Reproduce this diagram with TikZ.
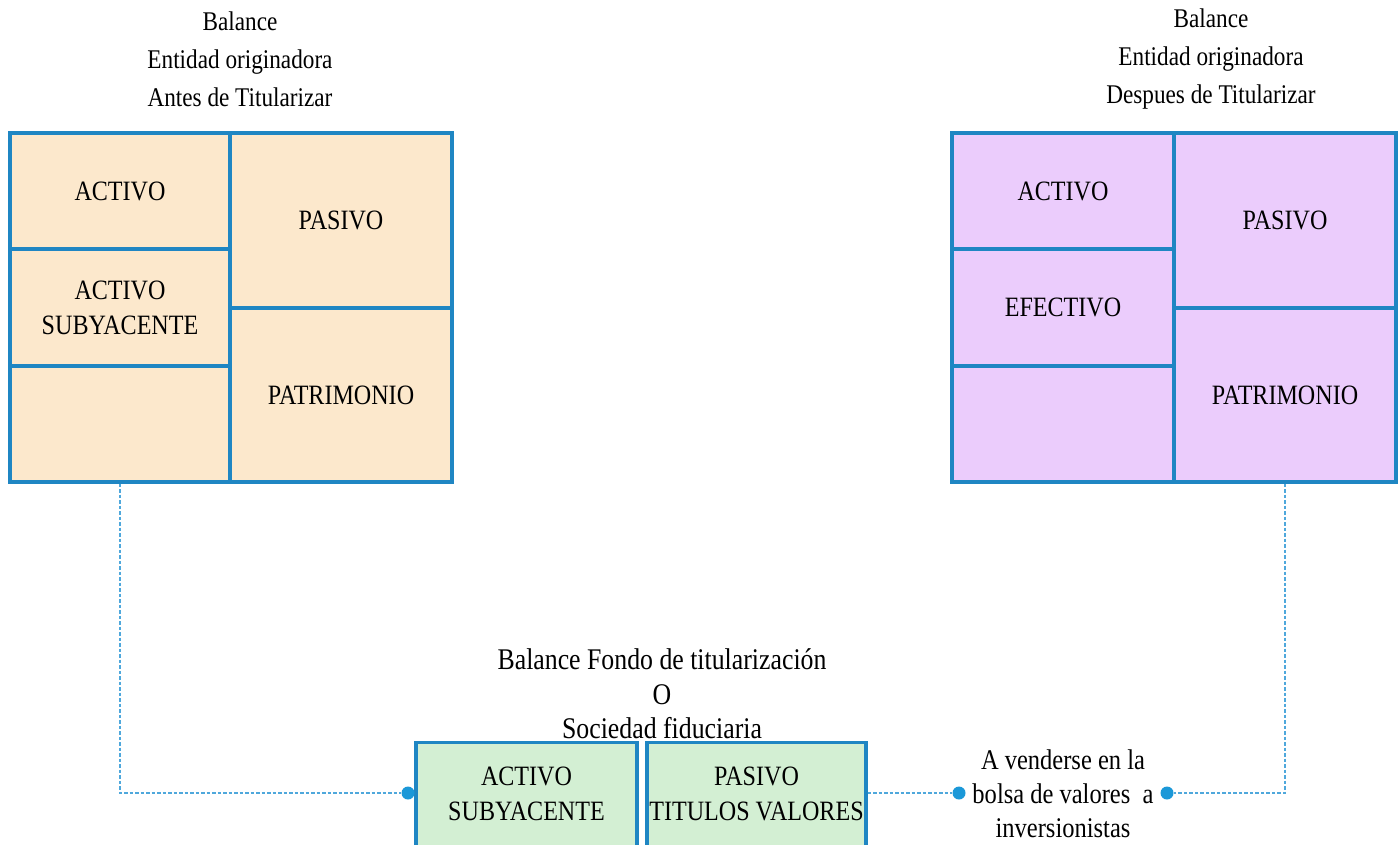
\documentclass[tikz,border=0pt]{standalone}
\usepackage{fontspec}
\setmainfont{Liberation Serif}[FakeStretch=0.86]
\usetikzlibrary{calc}
\definecolor{bord}{HTML}{1F86C3}
\definecolor{orf}{HTML}{FCE8CC}
\definecolor{puf}{HTML}{EBCCFC}
\definecolor{grf}{HTML}{D3EFD3}
\definecolor{dotc}{HTML}{1B98D8}
\definecolor{lnc}{HTML}{4FA8DC}
\tikzset{
  cell/.style={draw=bord, line width=3.2pt, rectangle, inner sep=0pt, align=center, font=\fontsize{28}{35}\selectfont},
  ocell/.style={cell, fill=orf},
  pcell/.style={cell, fill=puf},
  gcell/.style={cell, fill=grf},
  ttl/.style={align=center, inner sep=0pt, font=\fontsize{27}{38}\selectfont},
  lbl/.style={align=center, inner sep=0pt, font=\fontsize{30}{34.5}\selectfont},
  dotn/.style={circle, fill=dotc, inner sep=0pt, minimum size=13pt},
  conn/.style={draw=lnc, line width=1.5pt, dash pattern=on 3.5pt off 2pt}
}
\begin{document}
\begin{tikzpicture}[x=1pt,y=-1pt]
\useasboundingbox (0,0) rectangle (1400,844);
\clip (0,0) rectangle (1400,844);
% left balance
\node[ttl] (LT) at (240,59) {Balance\\Entidad originadora\\Antes de Titularizar};
\node[ocell, minimum width=220pt, minimum height=116pt] (LA) at (120,191) {ACTIVO};
\node[ocell, minimum width=220pt, minimum height=117pt] (LS) at (120,307.5) {ACTIVO\\SUBYACENTE};
\node[ocell, minimum width=220pt, minimum height=116pt] (LE) at (120,424) {};
\node[ocell, minimum width=222pt, minimum height=175pt] (LP) at (341,220.5) {PASIVO};
\node[ocell, minimum width=222pt, minimum height=174pt] (LPa) at (341,395) {PATRIMONIO};
% right balance
\node[ttl] (RT) at (1211,59) {Balance\\Entidad originadora\\Despues de Titularizar};
\node[pcell, minimum width=222pt, minimum height=116pt] (RA) at (1063,191) {ACTIVO};
\node[pcell, minimum width=222pt, minimum height=117pt] (RE) at (1063,307.5) {EFECTIVO};
\node[pcell, minimum width=222pt, minimum height=116pt] (RX) at (1063,424) {};
\node[pcell, minimum width=222pt, minimum height=175pt] (RP) at (1285,220.5) {PASIVO};
\node[pcell, minimum width=222pt, minimum height=174pt] (RPa) at (1285,395) {PATRIMONIO};
% fondo
\node[lbl] (FT) at (662,694) {Balance Fondo de titularización\\O\\Sociedad fiduciaria};
\node[gcell, minimum width=221pt, minimum height=140pt, anchor=north] (B1) at (526.5,741) {};
\node[gcell, minimum width=219pt, minimum height=140pt, anchor=north] (B2) at (756.5,741) {};
\node[cell, draw=none] (B1t) at (526.5,794) {ACTIVO\\SUBYACENTE};
\node[cell, draw=none] (B2t) at (756.5,794) {PASIVO\\TITULOS VALORES};
% sale label
\node[lbl, font=\fontsize{28.5}{34}\selectfont] (V) at (1063,794) {A venderse en la\\bolsa de valores \ a\\inversionistas};
% dots
\node[dotn] (d1) at (408,793) {};
\node[dotn] (d2) at (959,793) {};
\node[dotn] (d3) at (1167,793) {};
% connectors
\draw[conn] (LE.south) |- (d1.west);
\draw[conn] (RPa.south) |- (d3.east);
\draw[conn] (B2.east |- d2) -- (d2.west);
\end{tikzpicture}
\end{document}
